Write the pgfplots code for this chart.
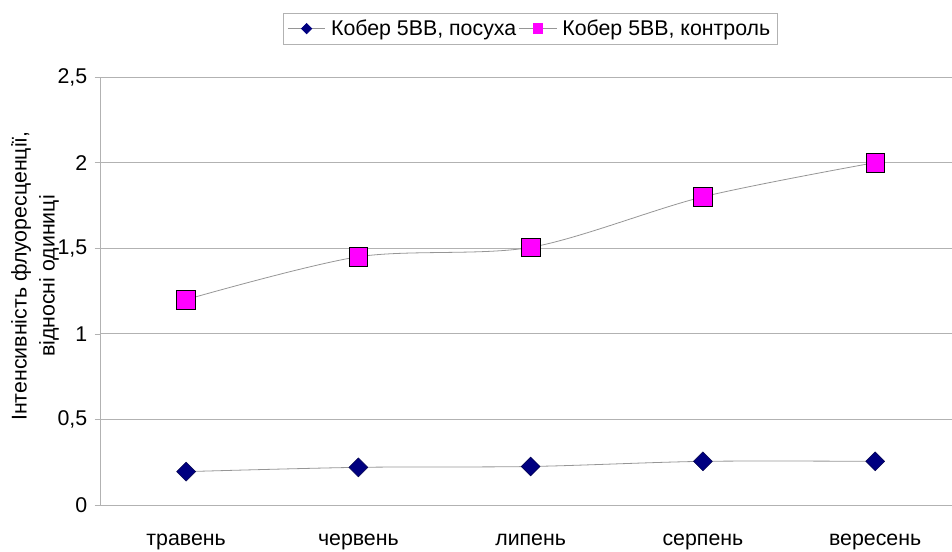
\documentclass[border=0pt]{standalone}
\usepackage{pgfplots}
\pgfplotsset{compat=1.18}
\usepackage{fontspec}
\setmainfont{Liberation Sans}
\definecolor{navyc}{RGB}{0,0,128}
\definecolor{magc}{RGB}{255,0,255}
\definecolor{linec}{RGB}{150,150,150}
\definecolor{gridc}{RGB}{178,178,178}
\begin{document}
\begin{tikzpicture}
\begin{axis}[
  scale only axis,
  width=639pt, height=321pt,
  xmin=-0.5, xmax=4.446,
  ymin=0, ymax=2.5,
  ytick={0,0.5,1,1.5,2,2.5},
  xtick={0,1,2,3,4},
  xticklabels={травень,червень,липень,серпень,вересень},
  extra x ticks={0.5,1.5,2.5,3.5},
  extra x tick labels={},
  extra x tick style={major tick length=4pt, tick style={draw=gridc}},
  x tick style={draw=none},
  major tick length=4pt,
  tick align=outside,
  y tick style={draw=gridc},
  axis lines*=left,
  axis line style={draw=gridc, -},
  ymajorgrids,
  grid style={draw=gridc, line width=0.6pt},
  /pgf/number format/use comma,
  /pgf/number format/assume math mode=true,
  tick label style={font=\fontsize{16}{19}\selectfont},
  yticklabel style={xshift=-2pt},
  xticklabel style={yshift=-14pt},
  ylabel={Інтенсивність флуоресценції,\\відносні одиниці},
  y label style={font=\fontsize{16}{21}\selectfont, align=center, at={(axis description cs:-0.0763,0.535)}, anchor=center},
  legend columns=2,
  legend style={draw=gridc, at={(axis description cs:0.505,1.113)}, anchor=center, font=\fontsize{16}{19}\selectfont, inner xsep=3pt, inner ysep=3pt,
    /tikz/every odd column/.append style={column sep=2pt},
    /tikz/every even column/.append style={column sep=0pt}},
  legend image code/.code={\draw[mark repeat=2,mark phase=2,#1] plot coordinates {(0pt,0pt) (14pt,0pt) (28pt,0pt)};},
  legend cell align=left,
]
\addlegendimage{linec, line width=0.6pt, mark=square*, mark size=2.7pt, mark options={rotate=45, fill=navyc, draw=navyc}}
\addlegendentry{Кобер 5ВВ, посуха}
\addlegendimage{linec, line width=0.6pt, mark=square*, mark size=3.6pt, mark options={fill=magc, draw=magc}}
\addlegendentry{Кобер 5ВВ, контроль}
\addplot[forget plot, linec, line width=0.6pt, smooth, mark=square*, mark size=5pt, mark options={rotate=45, fill=navyc, draw=navyc!60!black, line width=0.4pt}]
  coordinates {(0,0.195) (1,0.22) (2,0.225) (3,0.255) (4,0.255)};
\addplot[forget plot, linec, line width=0.6pt, smooth, mark=square*, mark size=7pt, mark options={fill=magc, draw=black, line width=0.5pt}]
  coordinates {(0,1.2) (1,1.45) (2,1.505) (3,1.8) (4,2.0)};
\end{axis}
\pgfresetboundingbox
\path ([shift={(-75pt,-34.5pt)}]current axis.south west) rectangle ([shift={(0pt,57.75pt)}]current axis.north east);
\end{tikzpicture}
\end{document}
